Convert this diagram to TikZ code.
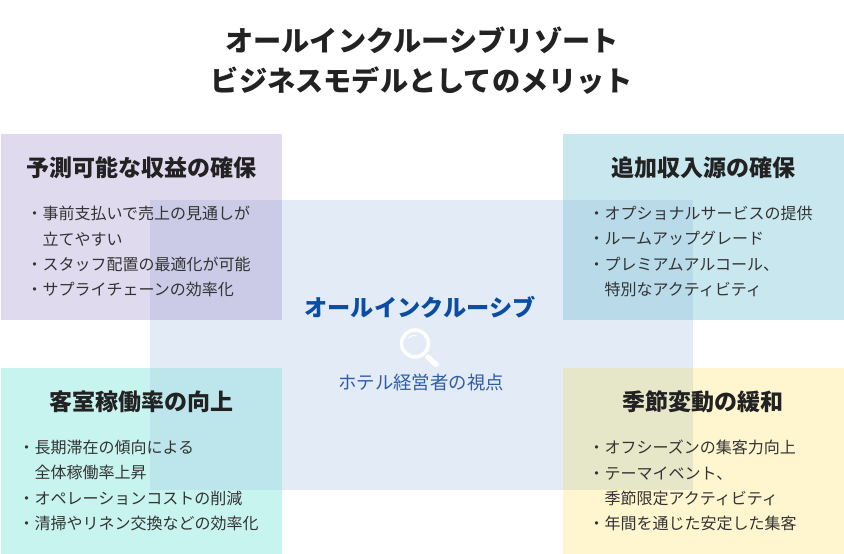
\documentclass[tikz,border=0pt]{standalone}
\usepackage{fontspec}
\setmainfont{Noto Sans CJK JP}
\definecolor{cTL}{HTML}{E0DAEE}
\definecolor{cTR}{HTML}{C9E7EE}
\definecolor{cBL}{HTML}{C8F4F0}
\definecolor{cBR}{HTML}{FFF6D0}
\definecolor{cC}{HTML}{E3EBF6}
\definecolor{oTL}{HTML}{CBCBE7}
\definecolor{oTR}{HTML}{B8DAE9}
\definecolor{oBL}{HTML}{BCE6EB}
\definecolor{oBR}{HTML}{E6E7C8}
\definecolor{ink}{HTML}{222222}
\definecolor{body}{HTML}{333333}
\definecolor{cblue}{HTML}{0B4DA2}
\definecolor{sblue}{HTML}{2F5DA8}
\tikzset{
  headtext/.style={font=\fontsize{28.2bp}{40bp}\selectfont\bfseries,text=ink,anchor=center,align=center,inner sep=0pt},
  boxtitle/.style={font=\fontsize{23bp}{26bp}\selectfont\bfseries,text=ink,anchor=center,inner sep=0pt},
  boxbody/.style={font=\fontsize{16bp}{25.3bp}\selectfont,text=body,anchor=north west,align=left,inner sep=0pt}
}
\begin{document}
\begin{tikzpicture}[x=1bp,y=-1bp]
\useasboundingbox (0,0) rectangle (844,554);
\fill[white] (0,0) rectangle (844,554);
\fill[cC] (150,200) rectangle (693,490);
\fill[cTL] (1,134) rectangle (282,320);
\fill[cTR] (563,134) rectangle (844,320);
\fill[cBL] (1,368) rectangle (282,554);
\fill[cBR] (563,368) rectangle (844,554);
\fill[oTL] (150,200) rectangle (282,320);
\fill[oTR] (563,200) rectangle (693,320);
\fill[oBL] (150,368) rectangle (282,490);
\fill[oBR] (563,368) rectangle (693,490);
\node[headtext] (head) at (422,61) {オールインクルーシブリゾート\\ビジネスモデルとしてのメリット};
\node[boxtitle] (t1) at (141.5,167.5) {予測可能な収益の確保};
\node[boxtitle] (t2) at (703,167.5) {追加収入源の確保};
\node[boxtitle] (t3) at (141.5,401.5) {客室稼働率の向上};
\node[boxtitle] (t4) at (703,401.5) {季節変動の緩和};
\node[boxbody] (b1) at (26.5,206) {・事前支払いで売上の見通しが\\\hspace*{16bp}立てやすい\\・スタッフ配置の最適化が可能\\・サプライチェーンの効率化};
\node[boxbody] (b2) at (588.5,206) {・オプショナルサービスの提供\\・ルームアップグレード\\・プレミアムアルコール、\\\hspace*{16bp}特別なアクティビティ};
\node[boxbody] (b3) at (18.5,440) {・長期滞在の傾向による\\\hspace*{16bp}全体稼働率上昇\\・オペレーションコストの削減\\・清掃やリネン交換などの効率化};
\node[boxbody] (b4) at (588.5,440) {・オフシーズンの集客力向上\\・テーマイベント、\\\hspace*{16bp}季節限定アクティビティ\\・年間を通じた安定した集客};
\node[font=\fontsize{23.2bp}{28bp}\selectfont\bfseries,text=cblue,inner sep=0pt] (c1) at (420,307) {オールインクルーシブ};
\node[font=\fontsize{18.4bp}{22bp}\selectfont,text=sblue,inner sep=0pt] (c2) at (421,383) {ホテル経営者の視点};
\draw[white,line width=3.5bp] (415,343.5) circle (13.5);
\draw[white,line width=5.5bp,line cap=round] (428,357) -- (436,364.5);
\draw[white,line width=1bp,line cap=round] (408,338) .. controls (410,336) and (413,335) .. (417,336);
\end{tikzpicture}
\end{document}
